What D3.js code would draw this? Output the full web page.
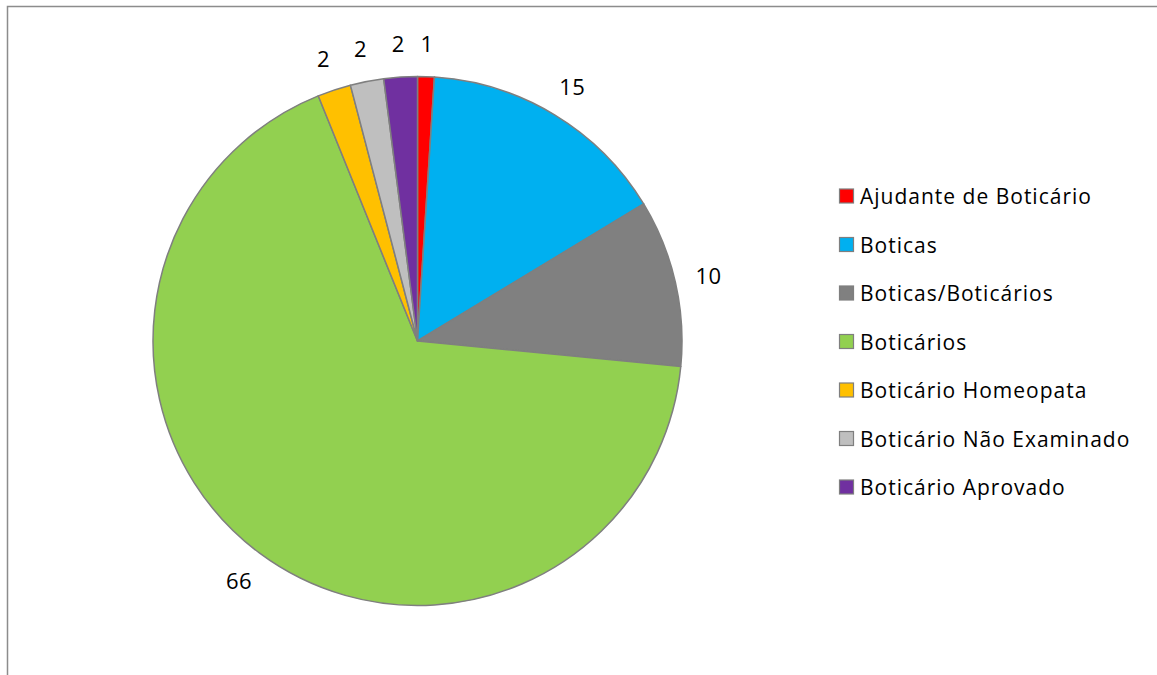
<!DOCTYPE html>
<html>
<head>
<meta charset="utf-8">
<script src="https://cdn.jsdelivr.net/npm/d3@7"></script>
<style>
  body { margin: 0; background: #fff; }
  svg { display: block; }
</style>
</head>
<body>
<div id="chart"></div>
<script>
// chart data
const categories = [
  "Ajudante de Boticário",
  "Boticas",
  "Boticas/Boticários",
  "Boticários",
  "Boticário Homeopata",
  "Boticário Não Examinado",
  "Boticário Aprovado"
];
const values = [1, 15, 10, 66, 2, 2, 2];
const colors = ["#ff0000", "#00b0f0", "#808080", "#92d050", "#ffc000", "#bfbfbf", "#7030a0"];

const width = 1157, height = 675;
const cx = 417.5, cy = 341, radius = 264.5;
const fontFamily = "'Open Sans', 'Noto Sans', sans-serif";

const svg = d3.select("#chart")
  .append("svg")
  .attr("width", width)
  .attr("height", height);

// chart area frame (only top and left visible)
svg.append("path")
  .attr("d", "M7.5,675 V6.5 H1157")
  .attr("fill", "none")
  .attr("stroke", "#8c8c8c")
  .attr("stroke-width", 1.5);

const data = categories.map((c, i) => ({ name: c, value: values[i], color: colors[i] }));

const pie = d3.pie()
  .value(d => d.value)
  .sort(null);

const arc = d3.arc()
  .innerRadius(0)
  .outerRadius(radius);

const labelArc = d3.arc()
  .innerRadius(radius + 34)
  .outerRadius(radius + 34);

const g = svg.append("g")
  .attr("transform", "translate(" + cx + "," + cy + ")");

const arcs = pie(data);

g.selectAll("path.slice")
  .data(arcs)
  .enter()
  .append("path")
  .attr("class", "slice")
  .attr("d", arc)
  .attr("fill", d => d.data.color)
  .attr("stroke", "#7f7f7f")
  .attr("stroke-width", 1.5)
  .attr("stroke-linejoin", "round");

g.selectAll("text.lbl")
  .data(arcs)
  .enter()
  .append("text")
  .attr("class", "lbl")
  .attr("x", d => labelArc.centroid(d)[0])
  .attr("y", d => labelArc.centroid(d)[1])
  .attr("text-anchor", "middle")
  .attr("dominant-baseline", "central")
  .style("font-family", fontFamily)
  .style("font-size", "22px")
  .style("letter-spacing", "0.5px")
  .style("fill", "#000")
  .text(d => d.data.value);

// legend
const legendY = d3.scalePoint()
  .domain(categories)
  .range([196, 487]);

const legend = svg.append("g")
  .attr("transform", "translate(839,0)");

const item = legend.selectAll("g.item")
  .data(data)
  .enter()
  .append("g")
  .attr("class", "item")
  .attr("transform", d => "translate(0," + legendY(d.name) + ")");

item.append("rect")
  .attr("x", 0.5)
  .attr("y", -7)
  .attr("width", 14)
  .attr("height", 14)
  .attr("fill", d => d.color)
  .attr("stroke", "#7f7f7f")
  .attr("stroke-width", 1.2);

item.append("text")
  .attr("x", 21)
  .attr("y", 0)
  .attr("dominant-baseline", "central")
  .style("font-family", fontFamily)
  .style("font-size", "21px")
  .style("letter-spacing", "1px")
  .style("fill", "#000")
  .text(d => d.name);
</script>
</body>
</html>
